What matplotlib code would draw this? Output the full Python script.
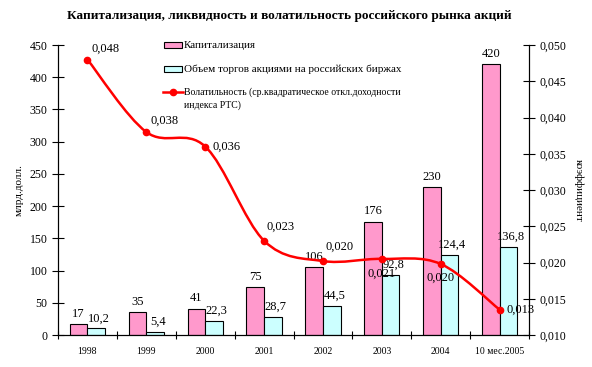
import matplotlib
matplotlib.use('Agg')
import matplotlib.pyplot as plt
from matplotlib.path import Path
from matplotlib.patches import PathPatch, Rectangle
from matplotlib.lines import Line2D
import numpy as np

plt.rcParams['font.family'] = ['Liberation Serif', 'DejaVu Serif']

years = ['1998', '1999', '2000', '2001', '2002', '2003', '2004', '10 мес.2005']
cap = [17, 35, 41, 75, 106, 176, 230, 420]
cap_labels = ['17', '35', '41', '75', '106', '176', '230', '420']
vol = [10.2, 5.4, 22.3, 28.7, 44.5, 92.8, 124.4, 136.8]
vol_labels = ['10,2', '5,4', '22,3', '28,7', '44,5', '92,8', '124,4', '136,8']
volat = [0.048, 0.038, 0.036, 0.023, 0.0202, 0.0205, 0.0198, 0.0135]
volat_labels = ['0,048', '0,038', '0,036', '0,023', '0,020', '0,021', '0,020', '0,013']

pink = '#FF99CC'
cyan = '#CCFFFF'
red = '#FF0000'

fig = plt.figure(figsize=(5.92, 3.67), dpi=100)
ax = fig.add_axes([58/592, 32/367, 471/592, 290/367])
ax2 = ax.twinx()

x = np.arange(len(years))
w = 0.3
ax.bar(x - w/2, cap, w, color=pink, edgecolor='black', linewidth=0.8)
ax.bar(x + w/2, vol, w, color=cyan, edgecolor='black', linewidth=0.8)

for i in range(len(x)):
    ax.annotate(cap_labels[i], (x[i] - w/2, cap[i]), xytext=(0, 3), textcoords='offset points',
                ha='center', va='bottom', fontsize=9)
    ax.annotate(vol_labels[i], (x[i] + w/2, vol[i]), xytext=(2, 3), textcoords='offset points',
                ha='center', va='bottom', fontsize=9)

ax.set_xlim(-0.5, len(years) - 0.5)
ax.set_ylim(0, 450)
ax.set_yticks(range(0, 451, 50))
ax.set_xticks(x)
ax.set_xticklabels(years, fontsize=7)
ax.set_xticks(np.arange(-0.5, len(years), 1), minor=True)
ax.tick_params(axis='x', which='major', length=0, pad=9)
ax.tick_params(axis='x', which='minor', length=6, direction='inout', width=0.8)
ax.tick_params(axis='y', length=8, direction='inout', labelsize=8.5, width=0.8)
ax.set_ylabel('млрд.долл.', fontsize=8, labelpad=4)
ax.spines['top'].set_visible(False)
ax2.spines['top'].set_visible(False)

# smoothed volatility line (Catmull-Rom -> cubic Bezier)
pts = np.column_stack([x, volat]).astype(float)
verts = [tuple(pts[0])]
codes = [Path.MOVETO]
for i in range(len(pts) - 1):
    p0 = pts[i - 1] if i > 0 else pts[i]
    p1 = pts[i]
    p2 = pts[i + 1]
    p3 = pts[i + 2] if i + 2 < len(pts) else pts[i + 1]
    c1 = p1 + (p2 - p0) / 6
    c2 = p2 - (p3 - p1) / 6
    verts += [tuple(c1), tuple(c2), tuple(p2)]
    codes += [Path.CURVE4] * 3
ax2.add_patch(PathPatch(Path(verts, codes), fill=False, edgecolor=red, linewidth=1.8))
ax2.plot(x, volat, 'o', color=red, markersize=4.5)

offs = [(3, 8), (3, 8), (5, 0), (2, 10), (2, 10), (0, -11), (0, -10), (5, 0)]
has = ['left', 'left', 'left', 'left', 'left', 'center', 'center', 'left']
for i in range(len(x)):
    ax2.annotate(volat_labels[i], (x[i], volat[i]), xytext=offs[i], textcoords='offset points',
                 ha=has[i], va='center', fontsize=9)

ticks2 = np.arange(0.01, 0.0501, 0.005)
ax2.set_ylim(0.01, 0.05)
ax2.set_yticks(ticks2)
ax2.set_yticklabels([('%.3f' % v).replace('.', ',') for v in ticks2])
ax2.tick_params(axis='y', length=8, direction='inout', labelsize=8.5, width=0.8)
ax2.set_ylabel('коэффициент', fontsize=8, rotation=-90, labelpad=12)
for s in ['left', 'right', 'bottom']:
    ax.spines[s].set_linewidth(0.8)
    ax2.spines[s].set_linewidth(0.8)

fig.text(289/592, 1 - 16/367, 'Капитализация, ликвидность и волатильность российского рынка акций',
         ha='center', va='center', fontsize=9.5, fontweight='bold')

# legend
fig.patches.append(Rectangle((164/592, 1 - 48/367), 18/592, 6/367, transform=fig.transFigure,
                             facecolor=pink, edgecolor='black', linewidth=0.8))
fig.text(184/592, 1 - 45/367, 'Капитализация', fontsize=8, va='center')
fig.patches.append(Rectangle((164/592, 1 - 72/367), 18/592, 6/367, transform=fig.transFigure,
                             facecolor=cyan, edgecolor='black', linewidth=0.8))
fig.text(184/592, 1 - 69/367, 'Объем торгов акциями на российских биржах', fontsize=8, va='center')
fig.lines.append(Line2D([163/592, 183/592], [1 - 92/367, 1 - 92/367], transform=fig.transFigure,
                        color=red, linewidth=1.8))
fig.lines.append(Line2D([173/592], [1 - 92/367], transform=fig.transFigure,
                        color=red, marker='o', markersize=4.5))
fig.text(184/592, 1 - 92/367, 'Волатильность (ср.квадратическое откл.доходности', fontsize=7, va='center')
fig.text(184/592, 1 - 105/367, 'индекса РТС)', fontsize=7, va='center')

fig.savefig('out.png', dpi=100)
